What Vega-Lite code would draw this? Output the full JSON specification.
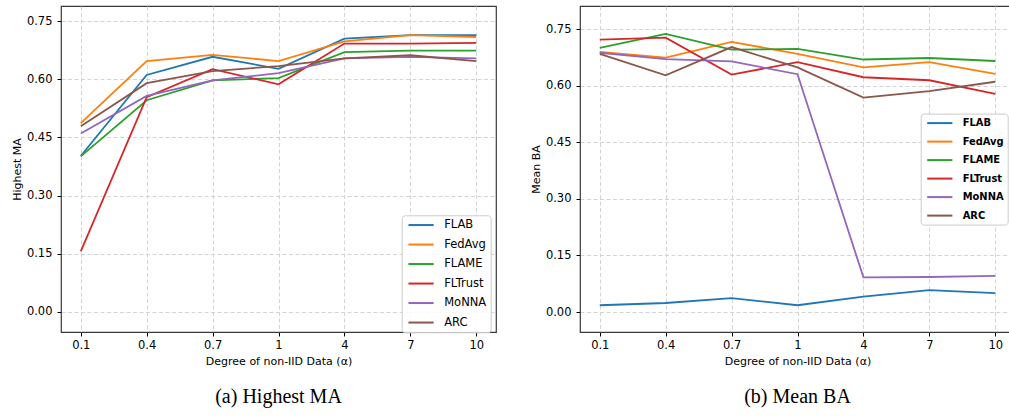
{
  "$schema": "https://vega.github.io/schema/vega-lite/v6.json",
  "background": "white",
  "padding": {"left": 10, "top": 5, "right": 0, "bottom": 0},
  "datasets": {
    "ma": [
      {"method": "FLAB", "alpha": "0.1", "value": 0.402},
      {"method": "FLAB", "alpha": "0.4", "value": 0.611},
      {"method": "FLAB", "alpha": "0.7", "value": 0.658},
      {"method": "FLAB", "alpha": "1", "value": 0.627},
      {"method": "FLAB", "alpha": "4", "value": 0.705},
      {"method": "FLAB", "alpha": "7", "value": 0.714},
      {"method": "FLAB", "alpha": "10", "value": 0.714},
      {"method": "FedAvg", "alpha": "0.1", "value": 0.487},
      {"method": "FedAvg", "alpha": "0.4", "value": 0.647},
      {"method": "FedAvg", "alpha": "0.7", "value": 0.663},
      {"method": "FedAvg", "alpha": "1", "value": 0.647},
      {"method": "FedAvg", "alpha": "4", "value": 0.698},
      {"method": "FedAvg", "alpha": "7", "value": 0.714},
      {"method": "FedAvg", "alpha": "10", "value": 0.709},
      {"method": "FLAME", "alpha": "0.1", "value": 0.401},
      {"method": "FLAME", "alpha": "0.4", "value": 0.546},
      {"method": "FLAME", "alpha": "0.7", "value": 0.597},
      {"method": "FLAME", "alpha": "1", "value": 0.603},
      {"method": "FLAME", "alpha": "4", "value": 0.670},
      {"method": "FLAME", "alpha": "7", "value": 0.674},
      {"method": "FLAME", "alpha": "10", "value": 0.674},
      {"method": "FLTrust", "alpha": "0.1", "value": 0.156},
      {"method": "FLTrust", "alpha": "0.4", "value": 0.554},
      {"method": "FLTrust", "alpha": "0.7", "value": 0.626},
      {"method": "FLTrust", "alpha": "1", "value": 0.587},
      {"method": "FLTrust", "alpha": "4", "value": 0.692},
      {"method": "FLTrust", "alpha": "7", "value": 0.692},
      {"method": "FLTrust", "alpha": "10", "value": 0.694},
      {"method": "MoNNA", "alpha": "0.1", "value": 0.460},
      {"method": "MoNNA", "alpha": "0.4", "value": 0.557},
      {"method": "MoNNA", "alpha": "0.7", "value": 0.597},
      {"method": "MoNNA", "alpha": "1", "value": 0.616},
      {"method": "MoNNA", "alpha": "4", "value": 0.654},
      {"method": "MoNNA", "alpha": "7", "value": 0.658},
      {"method": "MoNNA", "alpha": "10", "value": 0.654},
      {"method": "ARC", "alpha": "0.1", "value": 0.479},
      {"method": "ARC", "alpha": "0.4", "value": 0.590},
      {"method": "ARC", "alpha": "0.7", "value": 0.621},
      {"method": "ARC", "alpha": "1", "value": 0.634},
      {"method": "ARC", "alpha": "4", "value": 0.654},
      {"method": "ARC", "alpha": "7", "value": 0.662},
      {"method": "ARC", "alpha": "10", "value": 0.647}
    ],
    "ba": [
      {"method": "FLAB", "alpha": "0.1", "value": 0.018},
      {"method": "FLAB", "alpha": "0.4", "value": 0.024},
      {"method": "FLAB", "alpha": "0.7", "value": 0.037},
      {"method": "FLAB", "alpha": "1", "value": 0.018},
      {"method": "FLAB", "alpha": "4", "value": 0.041},
      {"method": "FLAB", "alpha": "7", "value": 0.058},
      {"method": "FLAB", "alpha": "10", "value": 0.050},
      {"method": "FedAvg", "alpha": "0.1", "value": 0.690},
      {"method": "FedAvg", "alpha": "0.4", "value": 0.675},
      {"method": "FedAvg", "alpha": "0.7", "value": 0.717},
      {"method": "FedAvg", "alpha": "1", "value": 0.685},
      {"method": "FedAvg", "alpha": "4", "value": 0.649},
      {"method": "FedAvg", "alpha": "7", "value": 0.663},
      {"method": "FedAvg", "alpha": "10", "value": 0.632},
      {"method": "FLAME", "alpha": "0.1", "value": 0.701},
      {"method": "FLAME", "alpha": "0.4", "value": 0.738},
      {"method": "FLAME", "alpha": "0.7", "value": 0.696},
      {"method": "FLAME", "alpha": "1", "value": 0.698},
      {"method": "FLAME", "alpha": "4", "value": 0.670},
      {"method": "FLAME", "alpha": "7", "value": 0.674},
      {"method": "FLAME", "alpha": "10", "value": 0.666},
      {"method": "FLTrust", "alpha": "0.1", "value": 0.723},
      {"method": "FLTrust", "alpha": "0.4", "value": 0.728},
      {"method": "FLTrust", "alpha": "0.7", "value": 0.630},
      {"method": "FLTrust", "alpha": "1", "value": 0.663},
      {"method": "FLTrust", "alpha": "4", "value": 0.623},
      {"method": "FLTrust", "alpha": "7", "value": 0.615},
      {"method": "FLTrust", "alpha": "10", "value": 0.579},
      {"method": "MoNNA", "alpha": "0.1", "value": 0.688},
      {"method": "MoNNA", "alpha": "0.4", "value": 0.671},
      {"method": "MoNNA", "alpha": "0.7", "value": 0.665},
      {"method": "MoNNA", "alpha": "1", "value": 0.631},
      {"method": "MoNNA", "alpha": "4", "value": 0.092},
      {"method": "MoNNA", "alpha": "7", "value": 0.093},
      {"method": "MoNNA", "alpha": "10", "value": 0.096},
      {"method": "ARC", "alpha": "0.1", "value": 0.685},
      {"method": "ARC", "alpha": "0.4", "value": 0.628},
      {"method": "ARC", "alpha": "0.7", "value": 0.703},
      {"method": "ARC", "alpha": "1", "value": 0.649},
      {"method": "ARC", "alpha": "4", "value": 0.569},
      {"method": "ARC", "alpha": "7", "value": 0.586},
      {"method": "ARC", "alpha": "10", "value": 0.611}
    ]
  },
  "config": {
    "font": "DejaVu Sans",
    "view": {"stroke": "#3a3a3a", "strokeWidth": 1.2},
    "axis": {
      "labelFont": "DejaVu Sans",
      "labelFontSize": 11.5,
      "labelColor": "#000000",
      "titleFont": "DejaVu Sans",
      "titleFontSize": 11,
      "titleFontWeight": "normal",
      "titleColor": "#000000",
      "tickColor": "#000000",
      "tickSize": 4,
      "tickWidth": 1,
      "domain": false,
      "grid": true,
      "gridColor": "#cfcfcf",
      "gridDash": [4, 2.5],
      "gridWidth": 0.9
    },
    "legend": {
      "orient": "none",
      "title": null,
      "strokeColor": "#cccccc",
      "fillColor": "rgba(255,255,255,0.85)",
      "cornerRadius": 3,
      "padding": 4,
      "symbolType": "M-1,0H7.4",
      "symbolSize": 36,
      "symbolStrokeWidth": 2,
      "labelFont": "DejaVu Sans",
      "labelFontSize": 11.5,
      "labelColor": "#000000",
      "labelOffset": 27,
      "rowPadding": 6.5
    }
  },
  "hconcat": [
    {
      "width": 435,
      "height": 326,
      "title": {"text": "(a) Highest MA", "orient": "bottom", "font": "Liberation Serif", "fontSize": 20, "fontWeight": "normal", "color": "#000000", "offset": 20},
      "data": {"name": "ma"},
      "mark": {"type": "line", "strokeWidth": 1.8},
      "encoding": {
        "x": {"field": "alpha", "type": "ordinal", "sort": ["0.1", "0.4", "0.7", "1", "4", "7", "10"], "scale": {"type": "point", "padding": 0.3}, "axis": {"title": "Degree of non-IID Data (α)", "labelAngle": 0, "labelPadding": 3, "titlePadding": 5}},
        "y": {"field": "value", "type": "quantitative", "scale": {"domain": [-0.052, 0.789], "nice": false, "zero": false}, "axis": {"title": "Highest MA", "values": [0, 0.15, 0.3, 0.45, 0.6, 0.75], "format": ".2f", "labelPadding": 5, "titlePadding": 4}},
        "color": {"field": "method", "type": "nominal", "sort": ["FLAB", "FedAvg", "FLAME", "FLTrust", "MoNNA", "ARC"], "scale": {"domain": ["FLAB", "FedAvg", "FLAME", "FLTrust", "MoNNA", "ARC"], "range": ["#1f77b4", "#ff7f0e", "#2ca02c", "#d62728", "#9467bd", "#8c564b"]}, "legend": {"legendX": 340.7, "legendY": 209.3}}
      }
    },
    {
      "width": 435,
      "height": 326,
      "title": {"text": "(b) Mean BA", "orient": "bottom", "font": "Liberation Serif", "fontSize": 20, "fontWeight": "normal", "color": "#000000", "offset": 20},
      "data": {"name": "ba"},
      "mark": {"type": "line", "strokeWidth": 1.8},
      "encoding": {
        "x": {"field": "alpha", "type": "ordinal", "sort": ["0.1", "0.4", "0.7", "1", "4", "7", "10"], "scale": {"type": "point", "padding": 0.3}, "axis": {"title": "Degree of non-IID Data (α)", "labelAngle": 0, "labelPadding": 3, "titlePadding": 5}},
        "y": {"field": "value", "type": "quantitative", "scale": {"domain": [-0.053, 0.812], "nice": false, "zero": false}, "axis": {"title": "Mean BA", "values": [0, 0.15, 0.3, 0.45, 0.6, 0.75], "format": ".2f", "labelPadding": 5, "titlePadding": 4}},
        "color": {"field": "method", "type": "nominal", "sort": ["FLAB", "FedAvg", "FLAME", "FLTrust", "MoNNA", "ARC"], "scale": {"domain": ["FLAB", "FedAvg", "FLAME", "FLTrust", "MoNNA", "ARC"], "range": ["#1f77b4", "#ff7f0e", "#2ca02c", "#d62728", "#9467bd", "#8c564b"]}, "legend": {"legendX": 340.7, "legendY": 107.6, "labelFont": "DejaVu Sans Condensed", "labelFontWeight": "bold", "labelFontSize": 11}}
      }
    }
  ],
  "spacing": 32,
  "resolve": {"legend": {"color": "independent"}}
}
